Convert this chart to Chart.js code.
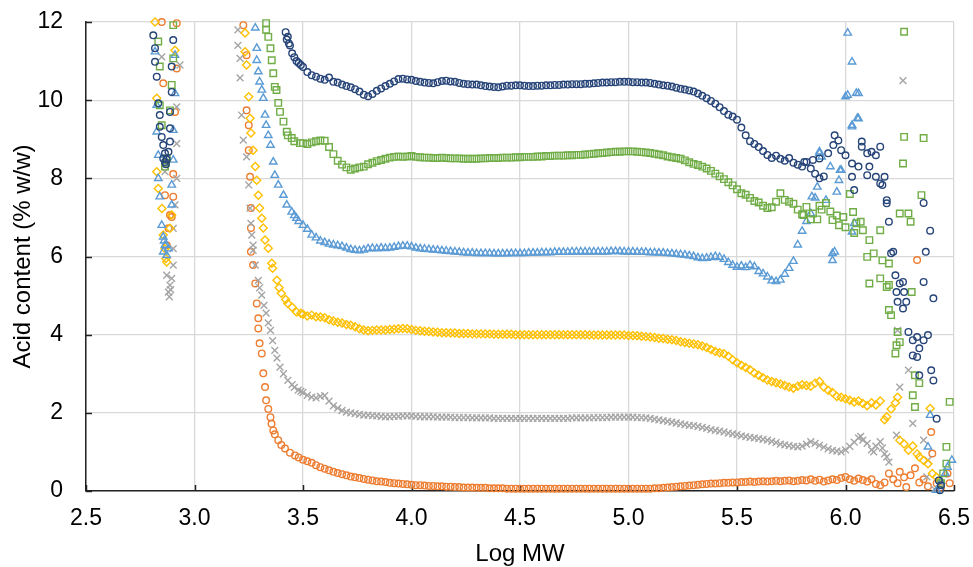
<!DOCTYPE html>
<html>
<head>
<meta charset="utf-8">
<title>Acid content vs Log MW</title>
<script src="https://cdn.jsdelivr.net/npm/chart.js@4.4.1/dist/chart.umd.min.js"></script>
<style>
  html, body { margin: 0; padding: 0; background: #fff; }
  canvas { display: block; }
</style>
</head>
<body>
<canvas id="acidChart" width="973" height="567"></canvas>
<script>
// Log MW positions shared by the dense part of every trace
const logMwGrid = [
  3.50, 3.52, 3.54, 3.56, 3.58, 3.60, 3.62, 3.64, 3.66, 3.68,
  3.70, 3.72, 3.74, 3.76, 3.78, 3.80, 3.82, 3.84, 3.86, 3.88,
  3.90, 3.92, 3.94, 3.96, 3.98, 4.00, 4.02, 4.04, 4.06, 4.08,
  4.10, 4.12, 4.14, 4.16, 4.18, 4.20, 4.22, 4.24, 4.26, 4.28,
  4.30, 4.32, 4.34, 4.36, 4.38, 4.40, 4.42, 4.44, 4.46, 4.48,
  4.50, 4.52, 4.54, 4.56, 4.58, 4.60, 4.62, 4.64, 4.66, 4.68,
  4.70, 4.72, 4.74, 4.76, 4.78, 4.80, 4.82, 4.84, 4.86, 4.88,
  4.90, 4.92, 4.94, 4.96, 4.98, 5.00, 5.02, 5.04, 5.06, 5.08,
  5.10, 5.12, 5.14, 5.16, 5.18, 5.20, 5.22, 5.24, 5.26, 5.28,
  5.30, 5.32, 5.34, 5.36, 5.38, 5.40, 5.42, 5.44, 5.46, 5.48,
  5.50, 5.52, 5.54, 5.56, 5.58, 5.60, 5.62, 5.64, 5.66, 5.68,
  5.70, 5.72, 5.74, 5.76, 5.78, 5.80
];

// acid content (% w/w) on logMwGrid
const navyBand = [
  10.85, 10.72, 10.64, 10.60, 10.55, 10.52, 10.58, 10.47, 10.45, 10.40,
  10.36, 10.33, 10.28, 10.22, 10.14, 10.10, 10.16, 10.24, 10.30, 10.36,
  10.42, 10.48, 10.54, 10.55, 10.53, 10.52, 10.49, 10.47, 10.45, 10.44,
  10.43, 10.46, 10.49, 10.50, 10.48, 10.47, 10.44, 10.42, 10.41, 10.40,
  10.40, 10.38, 10.36, 10.35, 10.34, 10.33, 10.35, 10.37, 10.37, 10.38,
  10.38, 10.37, 10.36, 10.36, 10.37, 10.37, 10.38, 10.38, 10.39, 10.39,
  10.40, 10.40, 10.41, 10.41, 10.41, 10.42, 10.42, 10.43, 10.44, 10.45,
  10.45, 10.46, 10.46, 10.47, 10.47, 10.47, 10.46, 10.46, 10.45, 10.45,
  10.44, 10.42, 10.40, 10.38, 10.37, 10.35, 10.32, 10.29, 10.27, 10.25,
  10.22, 10.17, 10.11, 10.05, 9.98, 9.91, 9.82, 9.72, 9.63, 9.58,
  9.50, 9.30, 9.10, 8.95, 8.88, 8.80, 8.70, 8.60, 8.52, 8.58,
  8.50, 8.45, 8.52, 8.40, 8.35, 8.30
];
const greenBand = [
  8.90, 8.88, 8.92, 8.95, 8.97, 8.96, 8.80, 8.62, 8.45, 8.35,
  8.28, 8.22, 8.25, 8.28, 8.30, 8.36, 8.40, 8.44, 8.47, 8.50,
  8.53, 8.55, 8.56, 8.55, 8.56, 8.57, 8.55, 8.54, 8.53, 8.53,
  8.52, 8.52, 8.53, 8.52, 8.51, 8.51, 8.51, 8.50, 8.50, 8.50,
  8.50, 8.51, 8.51, 8.52, 8.52, 8.52, 8.53, 8.53, 8.53, 8.54,
  8.54, 8.55, 8.55, 8.55, 8.56, 8.56, 8.57, 8.57, 8.58, 8.58,
  8.58, 8.59, 8.59, 8.60, 8.60, 8.61, 8.62, 8.63, 8.64, 8.65,
  8.66, 8.67, 8.68, 8.68, 8.69, 8.69, 8.69, 8.68, 8.67, 8.66,
  8.65, 8.63, 8.61, 8.59, 8.56, 8.54, 8.52, 8.50, 8.46, 8.41,
  8.37, 8.34, 8.30, 8.25, 8.19, 8.12, 8.05, 7.98, 7.90, 7.82,
  7.72, 7.62, 7.58, 7.50, 7.42, 7.38, 7.30, 7.24, 7.26, 7.40,
  7.62, 7.45, 7.40, 7.35, 7.20, 7.08
];
const blueBand = [
  6.80, 6.70, 6.55, 6.48, 6.40, 6.36, 6.32, 6.30, 6.28, 6.26,
  6.22, 6.18, 6.16, 6.15, 6.17, 6.20, 6.21, 6.20, 6.22, 6.21,
  6.22, 6.24, 6.26, 6.27, 6.27, 6.25, 6.22, 6.20, 6.19, 6.18,
  6.17, 6.16, 6.15, 6.14, 6.13, 6.12, 6.11, 6.10, 6.09, 6.09,
  6.08, 6.08, 6.08, 6.08, 6.07, 6.07, 6.07, 6.07, 6.08, 6.08,
  6.08, 6.08, 6.09, 6.09, 6.09, 6.10, 6.10, 6.10, 6.11, 6.11,
  6.11, 6.11, 6.12, 6.12, 6.12, 6.12, 6.12, 6.12, 6.12, 6.12,
  6.12, 6.13, 6.13, 6.13, 6.12, 6.12, 6.12, 6.11, 6.11, 6.11,
  6.10, 6.10, 6.09, 6.09, 6.08, 6.07, 6.06, 6.05, 6.04, 6.02,
  6.00, 5.97, 5.95, 5.96, 5.98, 6.00, 5.98, 5.93, 5.85, 5.78,
  5.73, 5.76, 5.72, 5.78, 5.74, 5.62, 5.56, 5.48, 5.38, 5.36,
  5.40, 5.55, 5.70, 5.88, 6.30, 6.65
];
const goldBand = [
  4.52, 4.48, 4.50, 4.46, 4.45, 4.43, 4.38, 4.35, 4.32, 4.30,
  4.26, 4.24, 4.20, 4.15, 4.12, 4.10, 4.11, 4.12, 4.12, 4.12,
  4.13, 4.14, 4.15, 4.16, 4.15, 4.13, 4.11, 4.10, 4.09, 4.08,
  4.07, 4.06, 4.05, 4.05, 4.04, 4.04, 4.03, 4.03, 4.03, 4.02,
  4.02, 4.02, 4.02, 4.02, 4.01, 4.01, 4.01, 4.01, 4.01, 4.00,
  4.00, 4.00, 4.00, 4.00, 4.00, 4.00, 4.00, 4.00, 4.00, 4.00,
  4.00, 4.00, 4.00, 4.00, 4.00, 4.00, 3.99, 3.99, 3.99, 3.99,
  3.99, 3.99, 3.99, 3.99, 3.99, 3.98, 3.98, 3.97, 3.96, 3.95,
  3.94, 3.93, 3.91, 3.90, 3.88, 3.87, 3.85, 3.82, 3.80, 3.78,
  3.76, 3.74, 3.71, 3.67, 3.62, 3.57, 3.54, 3.51, 3.45, 3.36,
  3.28, 3.22, 3.16, 3.10, 3.02, 2.96, 2.90, 2.84, 2.80, 2.77,
  2.74, 2.70, 2.66, 2.63, 2.68, 2.72
];
const grayBand = [
  2.52, 2.45, 2.40, 2.38, 2.42, 2.44, 2.30, 2.18, 2.12, 2.06,
  2.02, 2.00, 1.98, 1.96, 1.94, 1.94, 1.93, 1.92, 1.91, 1.90,
  1.90, 1.91, 1.91, 1.92, 1.92, 1.92, 1.91, 1.90, 1.90, 1.90,
  1.90, 1.89, 1.89, 1.89, 1.89, 1.88, 1.88, 1.88, 1.88, 1.87,
  1.87, 1.87, 1.87, 1.87, 1.86, 1.86, 1.86, 1.86, 1.86, 1.86,
  1.86, 1.86, 1.86, 1.86, 1.86, 1.86, 1.86, 1.86, 1.86, 1.86,
  1.86, 1.86, 1.87, 1.87, 1.87, 1.87, 1.87, 1.88, 1.88, 1.88,
  1.88, 1.89, 1.89, 1.89, 1.89, 1.89, 1.89, 1.88, 1.88, 1.87,
  1.86, 1.84, 1.82, 1.80, 1.78, 1.76, 1.74, 1.72, 1.70, 1.68,
  1.67, 1.65, 1.63, 1.60, 1.57, 1.55, 1.53, 1.51, 1.48, 1.46,
  1.44, 1.41, 1.39, 1.37, 1.36, 1.34, 1.32, 1.30, 1.27, 1.24,
  1.20, 1.18, 1.16, 1.14, 1.13, 1.15
];
const orangeBand = [
  0.80, 0.76, 0.72, 0.66, 0.61, 0.57, 0.53, 0.49, 0.46, 0.43,
  0.40, 0.37, 0.35, 0.33, 0.31, 0.29, 0.27, 0.25, 0.24, 0.23,
  0.21, 0.20, 0.19, 0.18, 0.17, 0.16, 0.15, 0.15, 0.14, 0.13,
  0.13, 0.12, 0.12, 0.11, 0.11, 0.10, 0.10, 0.09, 0.09, 0.09,
  0.08, 0.08, 0.08, 0.07, 0.07, 0.07, 0.07, 0.06, 0.06, 0.06,
  0.06, 0.06, 0.06, 0.06, 0.06, 0.06, 0.06, 0.06, 0.06, 0.06,
  0.06, 0.06, 0.06, 0.06, 0.06, 0.06, 0.06, 0.06, 0.06, 0.06,
  0.06, 0.06, 0.06, 0.06, 0.06, 0.06, 0.06, 0.06, 0.06, 0.06,
  0.06, 0.07, 0.07, 0.08, 0.09, 0.10, 0.11, 0.12, 0.13, 0.14,
  0.15, 0.16, 0.17, 0.18, 0.19, 0.19, 0.20, 0.21, 0.21, 0.22,
  0.22, 0.23, 0.23, 0.24, 0.23, 0.24, 0.25, 0.24, 0.25, 0.26,
  0.25, 0.26, 0.27, 0.25, 0.26, 0.28
];

// [logMW, acid] readings outside the dense grid: low-MW spike, steep rise, noisy high-MW end
const navyOther = [
  [2.81, 11.66], [2.902, 11.54], [2.818, 11.33], [2.818, 10.98], [2.895, 10.86], [2.826, 10.60],
  [2.895, 10.21], [2.833, 9.92], [2.887, 9.70], [2.84, 9.62], [2.84, 9.32], [2.887, 9.28],
  [2.849, 9.06], [2.887, 8.94], [2.856, 8.85], [2.864, 8.64], [2.88, 8.68], [2.856, 8.51],
  [2.864, 8.42], [2.872, 8.48], [2.868, 8.36],
  [3.42, 11.74], [3.425, 11.55], [3.43, 11.62], [3.435, 11.45], [3.44, 11.40], [3.45, 11.20],
  [3.46, 11.10], [3.47, 11.00], [3.48, 10.95], [3.49, 10.90],
  [5.82, 8.42], [5.84, 8.25], [5.86, 8.12], [5.88, 8.00], [5.90, 8.05], [5.81, 8.42], [5.85, 8.47],
  [5.88, 8.51], [5.92, 8.64], [5.944, 8.85], [5.95, 9.10], [5.967, 8.97], [5.98, 8.72], [6.00, 8.59],
  [6.03, 8.38], [6.03, 8.04], [6.04, 7.70], [6.06, 8.30], [6.075, 8.94], [6.075, 8.81], [6.10, 8.64],
  [6.10, 8.08], [6.11, 8.30], [6.12, 8.68], [6.14, 8.59], [6.14, 8.04], [6.16, 8.81], [6.16, 7.87],
  [6.17, 7.83], [6.18, 8.04], [6.19, 7.44], [6.19, 7.36], [6.20, 6.89], [6.22, 6.12], [6.21, 6.08],
  [6.23, 5.52], [6.25, 5.31], [6.265, 5.35], [6.235, 5.09], [6.27, 5.09], [6.24, 4.84], [6.28, 4.84],
  [6.265, 4.67], [6.29, 4.07], [6.33, 3.94], [6.38, 3.99], [6.36, 3.86], [6.31, 3.86], [6.34, 3.65],
  [6.31, 3.47], [6.33, 3.43], [6.395, 3.09], [6.34, 2.96], [6.405, 2.83], [6.36, 7.37], [6.39, 6.66],
  [6.37, 6.12], [6.36, 5.35], [6.405, 4.93], [6.42, 1.85], [6.43, 0.27], [6.435, 0.02], [6.44, 0.15]
];
const greenOther = [
  [2.902, 11.92], [2.833, 11.50], [2.902, 11.07], [2.84, 10.86], [2.895, 10.39], [2.84, 9.87],
  [2.887, 9.74], [2.849, 9.36], [2.872, 8.51], [2.864, 8.30], [2.868, 8.40],
  [3.33, 11.97], [3.33, 11.80], [3.34, 11.62], [3.35, 11.33], [3.356, 11.02], [3.363, 10.69],
  [3.37, 10.34], [3.378, 10.26], [3.386, 9.93], [3.394, 9.70], [3.41, 9.45], [3.425, 9.19],
  [3.43, 9.10], [3.448, 9.03], [3.46, 8.95], [3.486, 8.90],
  [5.82, 7.27], [5.806, 7.06], [5.85, 7.10], [5.84, 6.95], [5.87, 6.95], [5.88, 7.30], [5.89, 7.20],
  [5.91, 7.37], [5.93, 7.15], [5.94, 6.93], [5.96, 7.05], [5.97, 6.80], [5.99, 7.01], [6.00, 6.75],
  [6.02, 7.60], [6.035, 7.14], [6.04, 6.60], [6.05, 6.85], [6.07, 6.89], [6.08, 6.67], [6.11, 6.42],
  [6.10, 5.99], [6.13, 6.08], [6.16, 6.67], [6.17, 5.90], [6.20, 5.82], [6.16, 5.44], [6.11, 5.31],
  [6.19, 5.22], [6.25, 7.10], [6.29, 7.10], [6.30, 6.89], [6.35, 7.57], [6.265, 8.38], [6.27, 9.06],
  [6.36, 9.03], [6.27, 11.75], [6.20, 5.27], [6.20, 4.63], [6.21, 4.50], [6.24, 4.07], [6.235, 3.73],
  [6.23, 3.52], [6.25, 3.81], [6.32, 2.96], [6.34, 2.76], [6.31, 2.45], [6.32, 2.15], [6.305, 5.09],
  [6.465, 1.13], [6.48, 2.28], [6.45, 0.45], [6.465, 0.70], [6.44, 0.20]
];
const blueOther = [
  [2.818, 11.24], [2.91, 11.15], [2.91, 10.17], [2.826, 9.87], [2.826, 9.19], [2.902, 9.23],
  [2.833, 8.59], [2.902, 8.47], [2.833, 8.00], [2.895, 7.83], [2.84, 7.53], [2.895, 7.32],
  [2.849, 6.80], [2.856, 6.50], [2.864, 6.29], [2.856, 6.12], [2.872, 6.03], [2.88, 6.20], [2.86, 6.40],
  [3.28, 11.85], [3.287, 11.33], [3.287, 11.02], [3.294, 10.73], [3.30, 10.47], [3.31, 10.26],
  [3.317, 10.05], [3.325, 9.62], [3.33, 9.36], [3.34, 9.10], [3.35, 8.85], [3.363, 8.42],
  [3.37, 8.08], [3.386, 7.83], [3.41, 7.57], [3.425, 7.32], [3.448, 7.14], [3.46, 7.05],
  [3.47, 6.98], [3.48, 6.90],
  [5.82, 6.90], [5.84, 7.10], [5.845, 7.53], [5.86, 7.50], [5.87, 7.78], [5.88, 8.64], [5.89, 8.55],
  [5.88, 8.68], [5.91, 7.44], [5.93, 8.30], [5.94, 6.08], [5.94, 5.90], [5.95, 6.12], [5.96, 7.65],
  [5.97, 7.95], [5.975, 8.21], [5.98, 8.21], [6.00, 10.09], [6.01, 11.72], [6.01, 10.13],
  [6.03, 10.98], [6.05, 10.18], [6.06, 10.17], [6.03, 9.36], [6.055, 9.54], [6.06, 9.53],
  [6.03, 9.32], [6.04, 6.85], [6.03, 6.63], [6.39, 1.94], [6.38, 1.13], [6.47, 0.61], [6.49, 0.79],
  [6.42, 0.02], [6.44, 0.25], [6.46, 0.45]
];
const goldOther = [
  [2.818, 12.0], [2.91, 11.28], [2.826, 10.05], [2.833, 7.74], [2.85, 7.23], [2.856, 6.55],
  [2.864, 6.20], [2.872, 5.86], [2.895, 7.06], [2.887, 6.72], [2.826, 8.17], [2.868, 5.95],
  [3.233, 11.72], [3.233, 11.24], [3.24, 10.90], [3.25, 10.09], [3.256, 9.54], [3.26, 9.16],
  [3.27, 8.72], [3.28, 8.30], [3.287, 7.95], [3.294, 7.57], [3.30, 7.24], [3.31, 6.98],
  [3.317, 6.73], [3.325, 6.42], [3.34, 6.21], [3.356, 5.83], [3.36, 5.70], [3.38, 5.39],
  [3.39, 5.20], [3.40, 5.06], [3.42, 4.90], [3.43, 4.80], [3.45, 4.70], [3.47, 4.58], [3.49, 4.55],
  [5.82, 2.70], [5.84, 2.68], [5.86, 2.76], [5.88, 2.80], [5.90, 2.66], [5.92, 2.58], [5.94, 2.52],
  [5.96, 2.42], [5.98, 2.40], [6.00, 2.36], [6.02, 2.32], [6.04, 2.28], [6.06, 2.30], [6.08, 2.24],
  [6.10, 2.18], [6.12, 2.26], [6.14, 2.20], [6.16, 2.30], [6.18, 1.82], [6.19, 1.90], [6.21, 2.10],
  [6.23, 2.26], [6.24, 2.40], [6.25, 1.30], [6.27, 1.20], [6.29, 1.04], [6.31, 1.15], [6.33, 0.95],
  [6.34, 0.87], [6.36, 0.78], [6.38, 0.70], [6.39, 2.11], [6.40, 0.45], [6.42, 0.35], [6.435, 0.27]
];
const grayOther = [
  [2.849, 11.11], [2.933, 10.90], [2.918, 9.83], [2.918, 8.89], [2.864, 8.17], [2.918, 8.00],
  [2.91, 7.32], [2.902, 6.72], [2.902, 6.20], [2.902, 5.78], [2.872, 5.52], [2.895, 5.44],
  [2.887, 5.27], [2.88, 5.09], [2.884, 4.97], [2.89, 5.15],
  [3.20, 11.80], [3.20, 11.40], [3.21, 11.07], [3.21, 10.57], [3.217, 9.62], [3.225, 8.98],
  [3.24, 8.55], [3.25, 7.83], [3.256, 7.24], [3.26, 6.85], [3.264, 6.55], [3.27, 6.29],
  [3.27, 6.16], [3.28, 5.78], [3.294, 5.39], [3.30, 5.20], [3.31, 5.01], [3.32, 4.75],
  [3.33, 4.55], [3.34, 4.30], [3.35, 4.11], [3.36, 3.85], [3.37, 3.60], [3.38, 3.40],
  [3.394, 3.17], [3.41, 3.00], [3.43, 2.83], [3.45, 2.72], [3.46, 2.65], [3.478, 2.58], [3.49, 2.55],
  [5.82, 1.20], [5.84, 1.26], [5.86, 1.22], [5.88, 1.17], [5.90, 1.12], [5.92, 1.08], [5.94, 1.04],
  [5.96, 1.02], [5.98, 1.00], [6.00, 1.05], [6.02, 1.14], [6.04, 1.25], [6.06, 1.36], [6.07, 1.40],
  [6.08, 1.30], [6.10, 1.22], [6.12, 1.05], [6.13, 1.00], [6.14, 1.15], [6.16, 1.26], [6.17, 1.10],
  [6.18, 0.95], [6.19, 0.87], [6.20, 0.74], [6.265, 10.50], [6.24, 4.11], [6.29, 3.09], [6.25, 2.66],
  [6.31, 1.73], [6.235, 1.43], [6.36, 1.30], [6.38, 0.79], [6.375, 0.36], [6.41, 0.05], [6.44, 0.20]
];
const orangeOther = [
  [2.849, 12.0], [2.918, 11.97], [2.918, 10.81], [2.856, 10.43], [2.91, 9.70], [2.902, 8.11],
  [2.864, 7.57], [2.902, 7.53], [2.887, 7.06], [2.88, 6.72], [2.872, 6.29], [2.895, 7.01],
  [3.225, 11.92], [3.24, 11.15], [3.24, 9.74], [3.25, 9.36], [3.25, 8.72], [3.256, 8.04],
  [3.26, 7.24], [3.26, 6.73], [3.26, 6.12], [3.27, 5.78], [3.28, 5.31], [3.287, 4.80],
  [3.294, 4.42], [3.294, 4.16], [3.30, 3.78], [3.31, 3.52], [3.317, 3.01], [3.325, 2.66],
  [3.33, 2.32], [3.34, 2.10], [3.35, 1.89], [3.355, 1.72], [3.363, 1.55], [3.37, 1.45],
  [3.386, 1.30], [3.40, 1.18], [3.417, 1.09], [3.44, 0.98], [3.463, 0.91], [3.48, 0.86],
  [5.82, 0.27], [5.84, 0.30], [5.86, 0.26], [5.88, 0.29], [5.90, 0.24], [5.92, 0.27], [5.94, 0.30],
  [5.96, 0.28], [5.98, 0.33], [6.00, 0.36], [6.02, 0.30], [6.04, 0.26], [6.06, 0.32], [6.08, 0.28],
  [6.10, 0.24], [6.12, 0.30], [6.14, 0.18], [6.16, 0.15], [6.18, 0.22], [6.20, 0.45], [6.22, 0.30],
  [6.24, 0.20], [6.25, 0.49], [6.27, 0.35], [6.28, 0.10], [6.30, 0.40], [6.32, 0.58], [6.33, 5.91],
  [6.34, 0.22], [6.36, 0.30], [6.38, 0.12], [6.395, 1.51], [6.40, 0.96], [6.42, 0.20], [6.44, 0.08],
  [6.47, 0.45], [6.48, 0.20]
];

function toPoints(band, other) {
  const pts = logMwGrid.map((x, i) => ({ x: x, y: band[i] }));
  other.forEach(p => pts.push({ x: p[0], y: p[1] }));
  return pts;
}

function trace(label, band, other, color, style, radius) {
  return {
    label: label,
    data: toPoints(band, other),
    showLine: false,
    pointStyle: style,
    pointRadius: radius,
    pointHoverRadius: radius,
    pointBorderWidth: 1.4,
    borderColor: color,
    backgroundColor: "rgba(0,0,0,0)",
    clip: false
  };
}

// short inward tick marks on both axes
const innerTicks = {
  id: "innerTicks",
  beforeDatasetsDraw(chart) {
    const { ctx, chartArea, scales } = chart;
    ctx.save();
    ctx.strokeStyle = "#222";
    ctx.lineWidth = 1.5;
    scales.x.ticks.forEach(t => {
      const px = Math.round(scales.x.getPixelForValue(t.value)) + 0.5;
      ctx.beginPath();
      ctx.moveTo(px, chartArea.bottom);
      ctx.lineTo(px, chartArea.bottom - 6);
      ctx.stroke();
    });
    scales.y.ticks.forEach(t => {
      const py = Math.round(scales.y.getPixelForValue(t.value)) + 0.5;
      ctx.beginPath();
      ctx.moveTo(chartArea.left, py);
      ctx.lineTo(chartArea.left + 6, py);
      ctx.stroke();
    });
    ctx.restore();
  }
};

const fontFamily = "'Liberation Sans', Arial, sans-serif";

new Chart(document.getElementById("acidChart").getContext("2d"), {
  type: "scatter",
  data: {
    datasets: [
      trace("Sample 1", navyBand, navyOther, "#264478", "circle", 3.3),
      trace("Sample 2", greenBand, greenOther, "#70ad47", "rect", 4.6),
      trace("Sample 3", blueBand, blueOther, "#5b9bd5", "triangle", 4.3),
      trace("Sample 4", goldBand, goldOther, "#ffc000", "rectRot", 4.0),
      trace("Sample 5", grayBand, grayOther, "#a5a5a5", "crossRot", 4.8),
      trace("Sample 6", orangeBand, orangeOther, "#ed7d31", "circle", 3.3)
    ]
  },
  options: {
    responsive: false,
    animation: false,
    devicePixelRatio: 1,
    layout: { padding: { top: 22, right: 19, bottom: 0, left: 0 } },
    plugins: {
      legend: { display: false },
      tooltip: { enabled: false }
    },
    scales: {
      x: {
        type: "linear",
        min: 2.5,
        max: 6.5,
        afterFit: s => { s.height = 76; },
        ticks: {
          stepSize: 0.5,
          callback: v => v.toFixed(1),
          color: "#000",
          padding: 0,
          maxRotation: 0,
          font: { family: fontFamily, size: 23 }
        },
        // invisible tick marks only push the labels off the axis
        grid: { color: "#d9d9d9", lineWidth: 1.3, drawTicks: true, tickLength: 14, tickColor: "rgba(0,0,0,0)" },
        border: { color: "#222", width: 1.5 },
        title: {
          display: true,
          text: "Log MW",
          color: "#000",
          padding: { top: 0, bottom: -2 },
          font: { family: fontFamily, size: 24 }
        }
      },
      y: {
        min: 0,
        max: 12,
        afterFit: s => { s.width = 86; },
        ticks: {
          stepSize: 2,
          color: "#000",
          padding: 0,
          font: { family: fontFamily, size: 23 }
        },
        grid: { color: "#d9d9d9", lineWidth: 1.3, drawTicks: true, tickLength: 23, tickColor: "rgba(0,0,0,0)" },
        border: { color: "#222", width: 1.5 },
        title: {
          display: true,
          text: "Acid content (% w/w)",
          color: "#000",
          padding: { top: 9, bottom: 0 },
          font: { family: fontFamily, size: 24 }
        }
      }
    }
  },
  plugins: [innerTicks]
});
</script>
</body>
</html>
